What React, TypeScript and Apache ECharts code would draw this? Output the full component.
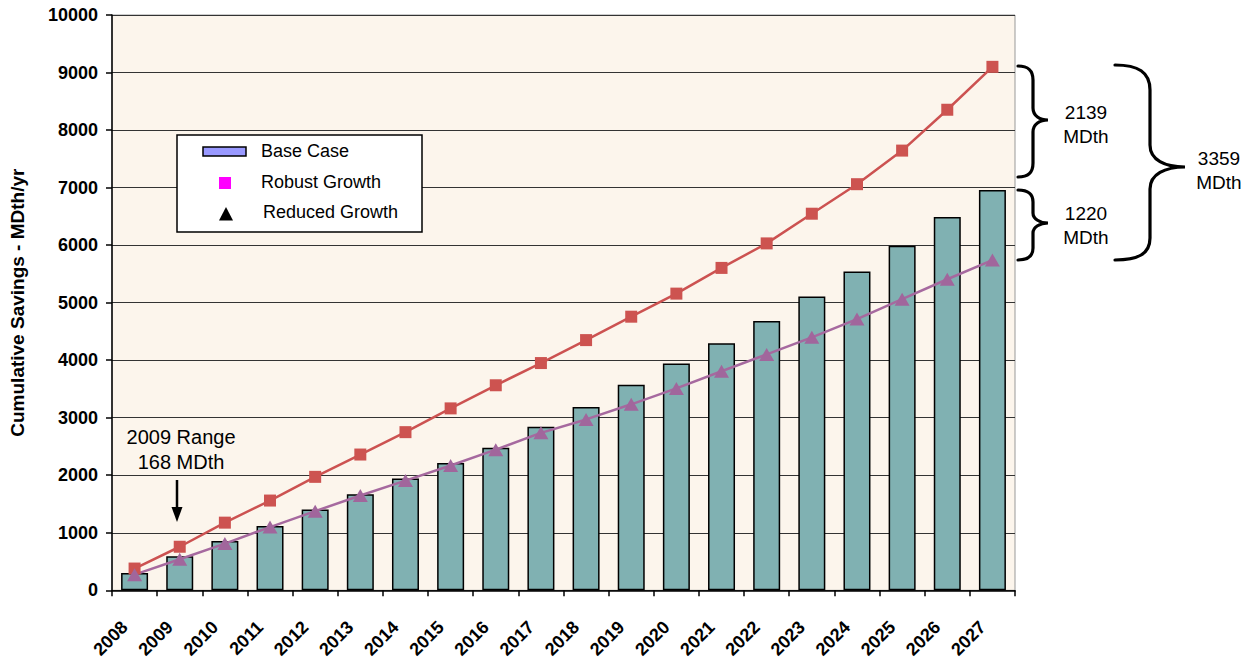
import React, { useEffect, useRef } from "react";
import * as echarts from "echarts";

const years = ["2008","2009","2010","2011","2012","2013","2014","2015","2016","2017","2018","2019","2020","2021","2022","2023","2024","2025","2026","2027"];
const baseCase = [300, 592, 855, 1116, 1404, 1670, 1943, 2214, 2476, 2842, 3186, 3572, 3942, 4293, 4683, 5107, 5541, 5991, 6487, 6960];
const robustGrowth = [378, 757, 1176, 1560, 1972, 2360, 2749, 3162, 3564, 3950, 4349, 4756, 5157, 5604, 6030, 6546, 7059, 7643, 8353, 9099];
const reducedGrowth = [272, 540, 812, 1099, 1376, 1647, 1907, 2170, 2445, 2737, 2970, 3233, 3509, 3807, 4100, 4397, 4714, 5061, 5407, 5740];
const yTicks = { min: 0, max: 10000, interval: 1000 };

const FONT = '"Liberation Sans", Arial, sans-serif';

echarts.graphic.registerShape(
  "braceTop",
  echarts.graphic.extendPath(
    "M 1018 66 C 1028 66, 1033 70, 1033 80 L 1033 108 C 1033 116, 1040 120, 1048 120 C 1040 120, 1033 124, 1033 132 L 1033 163 C 1033 173, 1028 177, 1018 177",
    {}
  )
);
echarts.graphic.registerShape(
  "braceLow",
  echarts.graphic.extendPath(
    "M 1018 190 C 1028 190, 1033 194, 1033 202 L 1033 213 C 1033 219, 1040 223, 1048 223 C 1040 223, 1033 227, 1033 233 L 1033 248 C 1033 256, 1028 260, 1018 260",
    {}
  )
);
echarts.graphic.registerShape(
  "braceBig",
  echarts.graphic.extendPath(
    "M 1115 65 C 1138 65, 1150 72, 1150 90 L 1150 145 C 1150 160, 1165 167, 1185 167 C 1165 167, 1150 174, 1150 189 L 1150 238 C 1150 254, 1138 260, 1115 260",
    {}
  )
);

function txt(text: string, x: number, y: number, size: number, align = "center") {
  return {
    type: "text",
    x,
    y,
    style: {
      text,
      fill: "#000",
      font: `normal ${size}px ${FONT}`,
      align,
      textAlign: align,
      verticalAlign: "middle",
      textVerticalAlign: "middle",
    },
  };
}

export default function App() {
  const ref = useRef<HTMLDivElement>(null);
  useEffect(() => {
    document.body.style.margin = "0";
    const chart = echarts.init(ref.current!, null, { renderer: "svg" });
    const braceStyle = { stroke: "#000", lineWidth: 3.2, fill: null, lineCap: "round" };
    chart.setOption({
      animation: false,
      backgroundColor: "#fff",
      grid: {
        left: 112,
        right: 234,
        top: 15,
        bottom: 69,
        show: true,
        backgroundColor: "#FCF5EC",
        borderColor: "#999",
        borderWidth: 1,
      },
      xAxis: {
        type: "category",
        data: years,
        boundaryGap: true,
        axisLine: { lineStyle: { color: "#000", width: 1.5 } },
        axisTick: { show: true, length: 6, lineStyle: { color: "#000", width: 1.5 } },
        axisLabel: {
          rotate: 45,
          interval: 0,
          margin: 24,
          padding: [0, 14, 0, 0],
          fontFamily: FONT,
          fontWeight: "bold",
          fontSize: 18,
          color: "#000",
        },
      },
      yAxis: {
        type: "value",
        min: yTicks.min,
        max: yTicks.max,
        interval: yTicks.interval,
        name: "Cumulative Savings - MDth/yr",
        nameLocation: "middle",
        nameGap: 85,
        nameTextStyle: { fontFamily: FONT, fontWeight: "bold", fontSize: 19, color: "#000" },
        axisLine: { show: true, lineStyle: { color: "#000", width: 1.5 } },
        axisTick: { show: true, length: 6, lineStyle: { color: "#000", width: 1.5 } },
        axisLabel: {
          margin: 14,
          formatter: (v: number) => String(v),
          fontFamily: FONT,
          fontWeight: "bold",
          fontSize: 18,
          color: "#000",
        },
        splitLine: { show: true, lineStyle: { color: "#333", width: 1 } },
      },
      series: [
        {
          name: "Base Case",
          type: "bar",
          data: baseCase,
          barWidth: 27,
          itemStyle: { color: "#80B1B2", borderColor: "#000", borderWidth: 1.5 },
          z: 2,
        },
        {
          name: "Robust Growth",
          type: "line",
          data: robustGrowth,
          symbol: "rect",
          symbolSize: 12,
          lineStyle: { color: "#CC5251", width: 2.5 },
          itemStyle: { color: "#CD5350" },
          z: 3,
        },
        {
          name: "Reduced Growth",
          type: "line",
          data: reducedGrowth,
          symbol: "triangle",
          symbolSize: [15, 13],
          lineStyle: { color: "#A6699F", width: 2.5 },
          itemStyle: { color: "#A1669C" },
          z: 3,
        },
      ],
      graphic: [
        {
          type: "rect",
          shape: { x: 177, y: 135, width: 245, height: 97 },
          style: { fill: "#fff", stroke: "#000", lineWidth: 1.5 },
          z: 100,
        },
        {
          type: "rect",
          shape: { x: 203, y: 147, width: 43, height: 9 },
          style: { fill: "#9999FF", stroke: "#000", lineWidth: 1.5 },
          z: 101,
        },
        {
          type: "rect",
          shape: { x: 219, y: 177, width: 12, height: 12 },
          style: { fill: "#FF00FF" },
          z: 101,
        },
        {
          type: "polygon",
          shape: { points: [[226, 207], [219, 220.5], [233, 220.5]] },
          style: { fill: "#000" },
          z: 101,
        },
        { ...txt("Base Case", 261, 151, 18, "left"), z: 101 },
        { ...txt("Robust Growth", 261, 182, 18, "left"), z: 101 },
        { ...txt("Reduced Growth", 263, 212, 18, "left"), z: 101 },
        { ...txt("2009 Range", 181, 437, 20), z: 101 },
        { ...txt("168 MDth", 181, 462, 20), z: 101 },
        {
          type: "line",
          shape: { x1: 177, y1: 480, x2: 177, y2: 510 },
          style: { stroke: "#000", lineWidth: 2.5 },
          z: 101,
        },
        {
          type: "polygon",
          shape: { points: [[171.5, 507], [182.5, 507], [177, 522]] },
          style: { fill: "#000" },
          z: 101,
        },
        { type: "braceTop", style: braceStyle, z: 101 },
        { type: "braceLow", style: braceStyle, z: 101 },
        { type: "braceBig", style: braceStyle, z: 101 },
        { ...txt("2139", 1086, 112, 19), z: 101 },
        { ...txt("MDth", 1086, 136, 19), z: 101 },
        { ...txt("1220", 1086, 213, 19), z: 101 },
        { ...txt("MDth", 1086, 237, 19), z: 101 },
        { ...txt("3359", 1219, 158, 19), z: 101 },
        { ...txt("MDth", 1219, 182, 19), z: 101 },
      ],
    });
    return () => chart.dispose();
  }, []);
  return (
    <div
      ref={ref}
      style={{ position: "fixed", left: 0, top: 0, width: 1249, height: 661 }}
    />
  );
}
